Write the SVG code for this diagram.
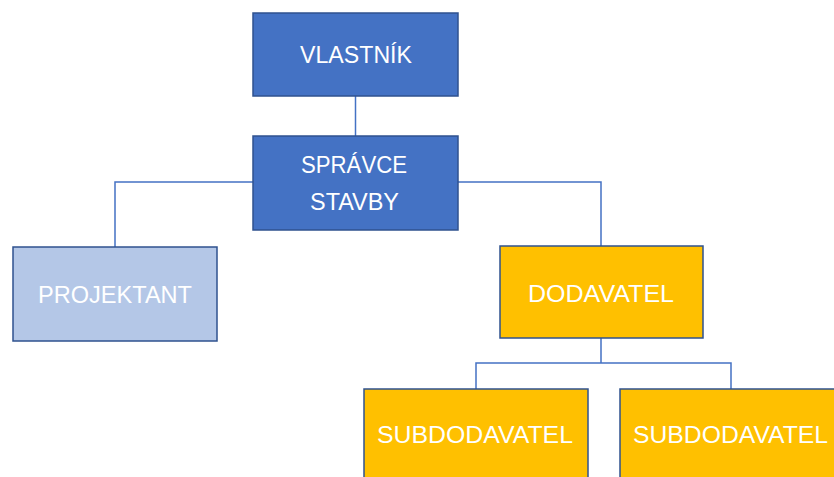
<svg xmlns="http://www.w3.org/2000/svg" width="834" height="477" viewBox="0 0 834 477">
  <style>
    .box { stroke: #2F528F; stroke-width: 1.5; }
    .dark { fill: #4472C4; }
    .light { fill: #B4C7E7; }
    .gold { fill: #FFC000; }
    .lbl { font-family: "Liberation Sans", "Open Sans", sans-serif; font-size: 24px; fill: #FFFFFF; text-anchor: middle; }
    .conn { fill: none; stroke: #4472C4; stroke-width: 1.5; }
  </style>
  <rect width="834" height="477" fill="#FFFFFF"/>

  <g id="connectors">
    <path class="conn" d="M355.5 96 V136"/>
    <path class="conn" d="M253 182 H115 V247"/>
    <path class="conn" d="M458 182 H601 V246"/>
    <path class="conn" d="M601 338 V363 M476 389 V363 H731 V389"/>
  </g>

  <g id="vlastnik">
    <rect class="box dark" x="253" y="13" width="205" height="83"/>
    <text class="lbl" x="356" y="63" textLength="112" lengthAdjust="spacingAndGlyphs">VLASTNÍK</text>
  </g>

  <g id="spravce-stavby">
    <rect class="box dark" x="253" y="136" width="205" height="94"/>
    <text class="lbl" x="354" y="173" textLength="106" lengthAdjust="spacingAndGlyphs">SPRÁVCE</text>
    <text class="lbl" x="354.5" y="210" textLength="89" lengthAdjust="spacingAndGlyphs">STAVBY</text>
  </g>

  <g id="projektant">
    <rect class="box light" x="13" y="247" width="204" height="94"/>
    <text class="lbl" x="115" y="303" textLength="154" lengthAdjust="spacingAndGlyphs">PROJEKTANT</text>
  </g>

  <g id="dodavatel">
    <rect class="box gold" x="500" y="246" width="203" height="92"/>
    <text class="lbl" x="601" y="302" textLength="146" lengthAdjust="spacingAndGlyphs">DODAVATEL</text>
  </g>

  <g id="subdodavatel-1">
    <rect class="box gold" x="364" y="389" width="224" height="100"/>
    <text class="lbl" x="475" y="443" textLength="196" lengthAdjust="spacingAndGlyphs">SUBDODAVATEL</text>
  </g>

  <g id="subdodavatel-2">
    <rect class="box gold" x="620" y="389" width="224" height="100"/>
    <text class="lbl" x="730.5" y="443" textLength="195" lengthAdjust="spacingAndGlyphs">SUBDODAVATEL</text>
  </g>
</svg>
